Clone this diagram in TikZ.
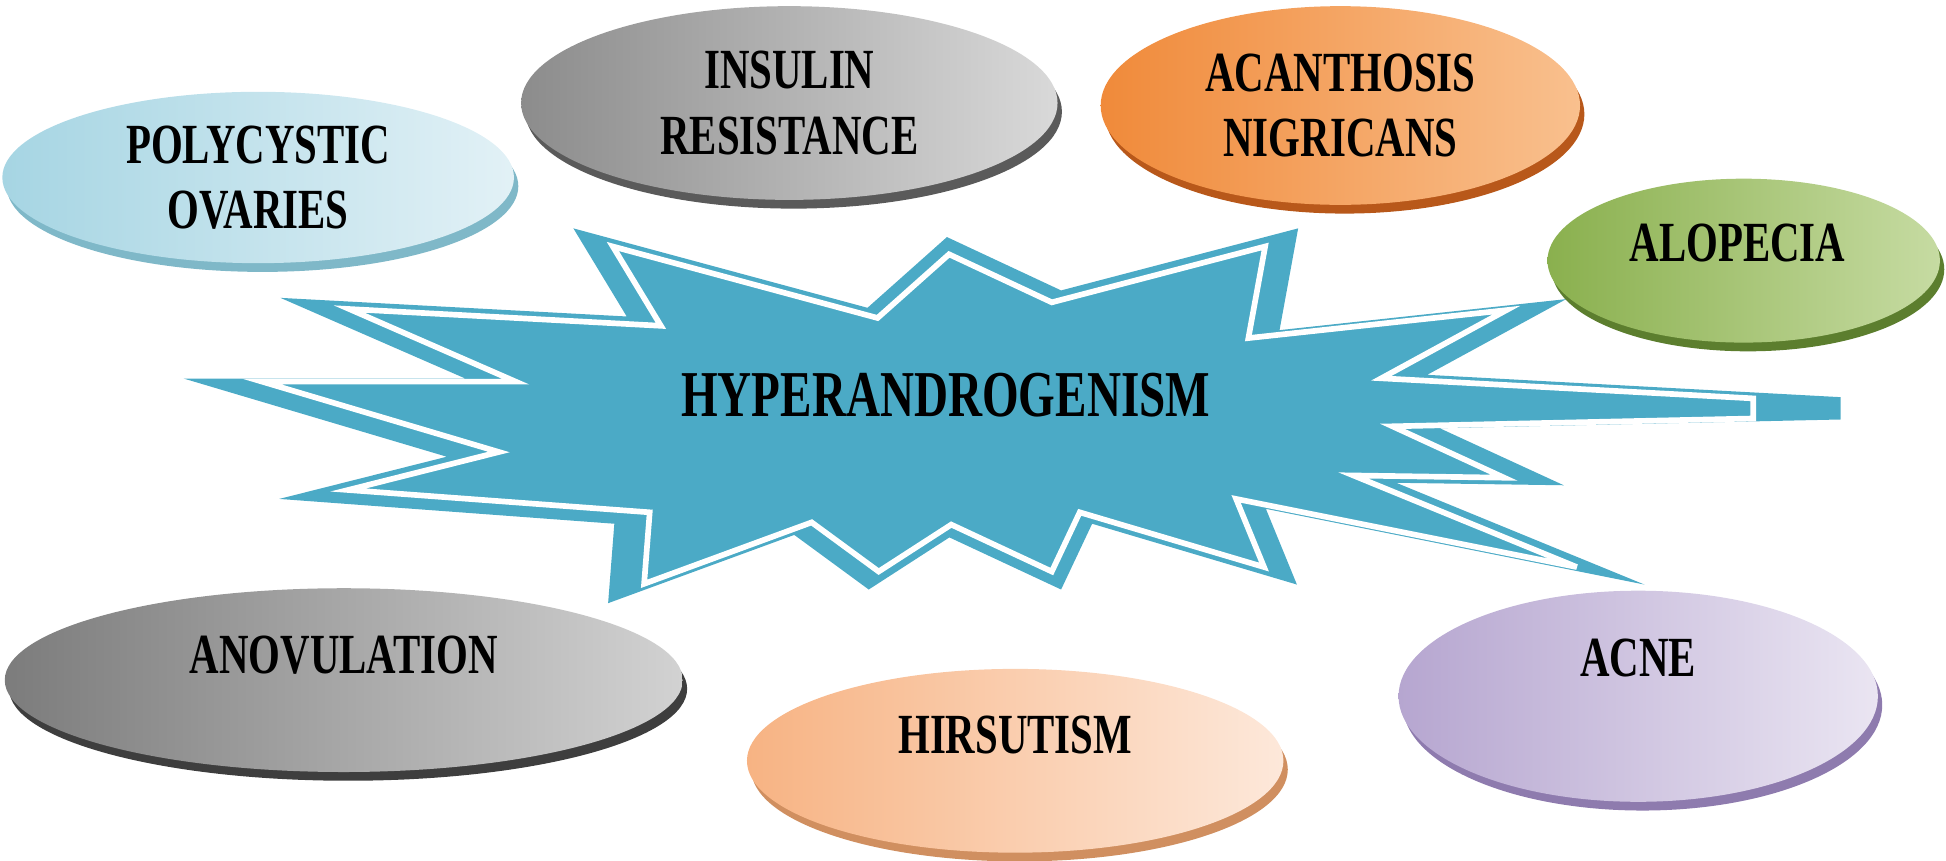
\documentclass[tikz,border=0pt]{standalone}
\usepackage{fontspec}
\setmainfont{Liberation Serif}[FakeStretch=0.72]
\usetikzlibrary{shapes.geometric,shadows}
\definecolor{teal1}{HTML}{4BAAC6}
\definecolor{polyA}{HTML}{A6D5E3}\definecolor{polyB}{HTML}{E2F1F6}\definecolor{polyC}{HTML}{7FB8C8}
\definecolor{insA}{HTML}{8C8C8C}\definecolor{insB}{HTML}{D9D9D9}\definecolor{insC}{HTML}{5A5A5A}
\definecolor{acA}{HTML}{F08A3A}\definecolor{acB}{HTML}{F9C08E}\definecolor{acC}{HTML}{B8581A}
\definecolor{alA}{HTML}{8AB04E}\definecolor{alB}{HTML}{C6DBA2}\definecolor{alC}{HTML}{5C7E2E}
\definecolor{anA}{HTML}{7C7C7C}\definecolor{anB}{HTML}{D2D2D2}\definecolor{anC}{HTML}{3E3E3E}
\definecolor{hiA}{HTML}{F7B383}\definecolor{hiB}{HTML}{FDE8DA}\definecolor{hiC}{HTML}{D08F60}
\definecolor{cnA}{HTML}{B6A6D0}\definecolor{cnB}{HTML}{EAE5F2}\definecolor{cnC}{HTML}{8E7BAE}
\tikzset{
  bub/.style n args={3}{ellipse, inner sep=0pt,
    left color=#1, right color=#2,
    drop shadow={shadow xshift=1pt, shadow yshift=-2pt, fill=#3, opacity=1}},
  lbl/.style={align=center, font=\bfseries\fontsize{13}{15}\selectfont},
}
\begin{document}
\begin{tikzpicture}[x=0.01cm,y=-0.01cm]
\useasboundingbox (0,0) rectangle (1568,693);
\def\starshape{(148,305) -- (375,305) -- (226,240) -- (505,255) -- (462,184) -- (699,248) -- (763,191) -- (855,234) -- (1046,184) -- (1031,266) -- (1262,241) -- (1150,302) -- (1483,320) -- (1483,338) -- (1160,345) -- (1260,391) -- (1125,389) -- (1325,471) -- (1020,410) -- (1045,471) -- (880,422) -- (855,475) -- (765,433) -- (700,475) -- (640,431) -- (490,486) -- (495,422) -- (225,402) -- (360,368) -- cycle}
\fill[teal1] \starshape;
\begin{scope}[shift={(780,330)},scale=0.9,shift={(-780,-330)}]
\draw[white,line width=1.3pt,line join=miter] \starshape;
\end{scope}
\node[font=\bfseries\fontsize{15}{17}\selectfont] (hyp) at (762,318) {HYPERANDROGENISM};

\node[bub={polyA}{polyB}{polyC}, minimum width=4.12cm, minimum height=1.38cm] (poly) at (208,143) {};
\node[lbl] (polyt) at (poly) {POLYCYSTIC\\OVARIES};
\node[bub={insA}{insB}{insC}, minimum width=4.32cm, minimum height=1.56cm] (ins) at (636,83) {};
\node[lbl] (inst) at (ins) {INSULIN\\RESISTANCE};
\node[bub={acA}{acB}{acC}, minimum width=3.86cm, minimum height=1.6cm] (acan) at (1080,85) {};
\node[lbl] (acant) at (acan) {ACANTHOSIS\\NIGRICANS};
\node[bub={alA}{alB}{alC}, minimum width=3.16cm, minimum height=1.32cm] (alo) at (1405,210) {};
\node[lbl] (alot) at (1400,196) {ALOPECIA};
\node[bub={anA}{anB}{anC}, minimum width=5.46cm, minimum height=1.48cm] (anov) at (277,548) {};
\node[lbl] (anovt) at (277,528) {ANOVULATION};
\node[bub={hiA}{hiB}{hiC}, minimum width=4.32cm, minimum height=1.48cm] (hir) at (818,613) {};
\node[lbl] (hirt) at (818,592) {HIRSUTISM};
\node[bub={cnA}{cnB}{cnC}, minimum width=3.86cm, minimum height=1.7cm] (acne) at (1320,561) {};
\node[lbl] (acnet) at (1320,530) {ACNE};
\end{tikzpicture}
\end{document}
